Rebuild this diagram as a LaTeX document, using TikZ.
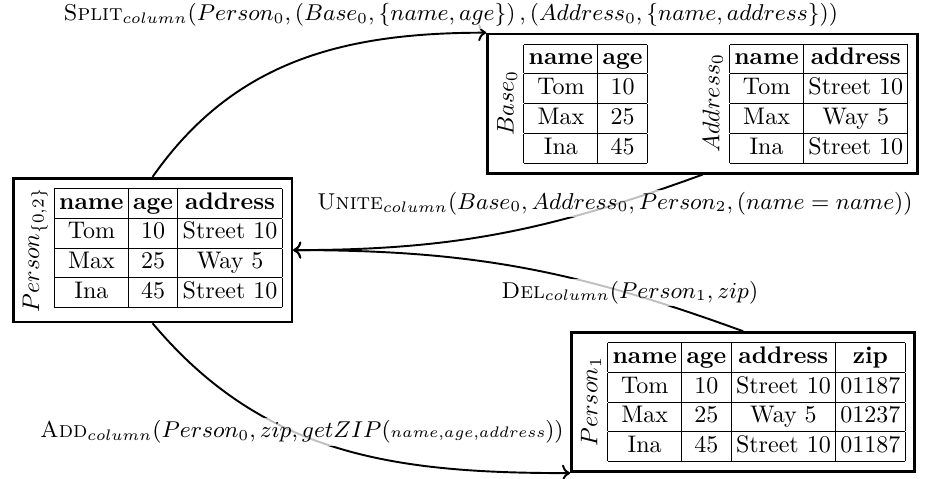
\documentclass[tikz,border=0pt]{standalone}
\usepackage{graphicx}
\usetikzlibrary{arrows.meta, positioning, calc}

\setlength{\tabcolsep}{2pt}
\newcommand{\rellabel}[1]{\rotatebox[origin=c]{90}{$#1$}}
\newcommand{\optext}[1]{\scalebox{1.06}{$#1$}}

\begin{document}
\begin{tikzpicture}[font=\normalsize,
    relbox/.style={draw, line width=1.1pt, rectangle, inner sep=4pt, fill=white},
    oplabel/.style={fill=white, fill opacity=0.75, text opacity=1, inner sep=1pt, font=\small},
    op/.style={->, thick}]
    \useasboundingbox (0,0) rectangle (13.57,7.0);

    % relations
    \node[relbox] (person02) at (2.233,3.339) {\rellabel{Person_{\{0,2\}}}\;%
        \begin{tabular}{|c|c|c|}\hline
            \textbf{name} & \textbf{age} & \textbf{address} \\\hline
            Tom & 10 & Street 10 \\\hline
            Max & 25 & Way 5 \\\hline
            Ina & 45 & Street 10 \\\hline
        \end{tabular}};

    \node[relbox] (split) at (10.285,5.483) {\rellabel{Base_0}\;%
        \begin{tabular}{|c|c|}\hline
            \textbf{name} & \textbf{age} \\\hline
            Tom & 10 \\\hline
            Max & 25 \\\hline
            Ina & 45 \\\hline
        \end{tabular}\hspace{2.3em}\rellabel{Address_0}\;%
        \begin{tabular}{|c|c|}\hline
            \textbf{name} & \textbf{address} \\\hline
            Tom & Street 10 \\\hline
            Max & Way 5 \\\hline
            Ina & Street 10 \\\hline
        \end{tabular}};

    \node[relbox] (person1) at (10.878,1.113) {\rellabel{Person_1}\;%
        \begin{tabular}{|c|c|c|c|}\hline
            \textbf{name} & \textbf{age} & \textbf{address} & \textbf{zip} \\\hline
            Tom & 10 & Street 10 & 01187 \\\hline
            Max & 25 & Way 5 & 01237 \\\hline
            Ina & 45 & Street 10 & 01187 \\\hline
        \end{tabular}};

    % operations
    \draw[op] (person02.north) to[out=55, in=180] (split.north west);
    \draw[op] (split.south) to[out=200, in=0] (person02.east);
    \draw[op] (person1.north) to[out=160, in=0] (person02.east);
    \draw[op] (person02.south) to[out=-50, in=180] (person1.south west);

    \node[oplabel] (splitop) at (6.60,6.78) {\optext{\textsc{Split}_{column}(Person_0, (Base_0, \{name, age\})\,, (Address_0, \{name, address\}))}};
    \node[oplabel] (uniteop) at (9.00,4.02) {\optext{\textsc{Unite}_{column}(Base_0, Address_0, Person_2, (name = name))}};
    \node[oplabel] (delop) at (9.22,2.72) {\optext{\textsc{Del}_{column}(Person_1, zip)}};
    \node[oplabel] (addop) at (4.42,0.673) {\optext{\textsc{Add}_{column}(Person_0, zip, getZIP({\scriptstyle name,age,address}))}};
\end{tikzpicture}
\end{document}
